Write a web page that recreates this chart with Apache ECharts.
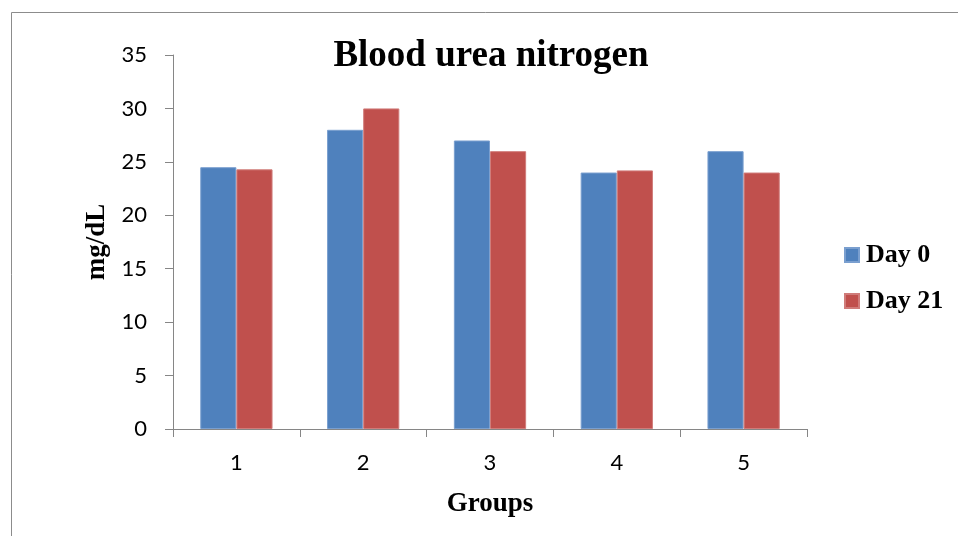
<!DOCTYPE html>
<html>
<head>
<meta charset="utf-8">
<script src="https://cdn.jsdelivr.net/npm/echarts@6/dist/echarts.min.js"></script>
<style>html,body{margin:0;padding:0;background:#fff;}#c{width:958px;height:536px;}</style>
</head>
<body>
<div id="c"></div>
<script>
const categories = ['1', '2', '3', '4', '5'];
const day0 = [24.5, 28, 27, 24, 26];
const day21 = [24.3, 30, 26, 24.2, 24];
const yTicks = { min: 0, max: 35, interval: 5 };

const chart = echarts.init(document.getElementById('c'), null, { renderer: 'canvas' });
const serif = '"Liberation Serif", "Times New Roman", serif';
const axisColor = '#868686';
chart.setOption({
  animation: false,
  backgroundColor: '#ffffff',
  graphic: [{
    type: 'rect', left: 9, top: 10, shape: { width: 960, height: 540 },
    style: { fill: 'none', stroke: '#8c8c8c', lineWidth: 1 }, silent: true
  }],
  title: {
    text: 'Blood urea nitrogen', left: 486, top: 33, textAlign: 'center',
    textStyle: { fontFamily: serif, fontWeight: 'bold', fontSize: 37, color: '#000' }
  },
  legend: {
    orient: 'vertical', left: 839, top: 237, itemWidth: 14, itemHeight: 14, itemGap: 20,
    icon: 'rect',
    textStyle: { fontFamily: serif, fontWeight: 'bold', fontSize: 26, color: '#000', lineHeight: 26, padding: [0, 0, 0, 2] },
    data: ['Day 0', 'Day 21']
  },
  grid: { left: 173, right: 151, top: 55, bottom: 107, containLabel: false },
  xAxis: {
    type: 'category', data: categories,
    name: 'Groups', nameLocation: 'middle', nameGap: 62,
    nameTextStyle: { fontFamily: serif, fontWeight: 'bold', fontSize: 27, color: '#000' },
    axisLine: { lineStyle: { color: axisColor, width: 1 } },
    axisTick: { show: true, length: 8, alignWithLabel: false, lineStyle: { color: axisColor } },
    axisLabel: { fontFamily: 'Lato, "Open Sans", sans-serif', fontSize: 22, color: '#000', margin: 23 }
  },
  yAxis: {
    type: 'value', min: yTicks.min, max: yTicks.max, interval: yTicks.interval,
    name: 'mg/dL', nameLocation: 'middle', nameGap: 62, nameRotate: 90,
    nameTextStyle: { fontFamily: serif, fontWeight: 'bold', fontSize: 27, color: '#000' },
    axisLine: { show: true, lineStyle: { color: axisColor, width: 1 } },
    axisTick: { show: true, length: 8, lineStyle: { color: axisColor } },
    splitLine: { show: false },
    axisLabel: { fontFamily: 'Lato, "Open Sans", sans-serif', fontSize: 22, color: '#000', margin: 26 }
  },
  series: [
    { name: 'Day 0', type: 'bar', data: day0, barGap: '0%', barCategoryGap: '43%',
      itemStyle: { color: '#4F81BD', borderColor: '#7A9FCF', borderWidth: 1 } },
    { name: 'Day 21', type: 'bar', data: day21,
      itemStyle: { color: '#C0504D', borderColor: '#D07C7A', borderWidth: 1 } }
  ]
});
</script>
</body>
</html>
